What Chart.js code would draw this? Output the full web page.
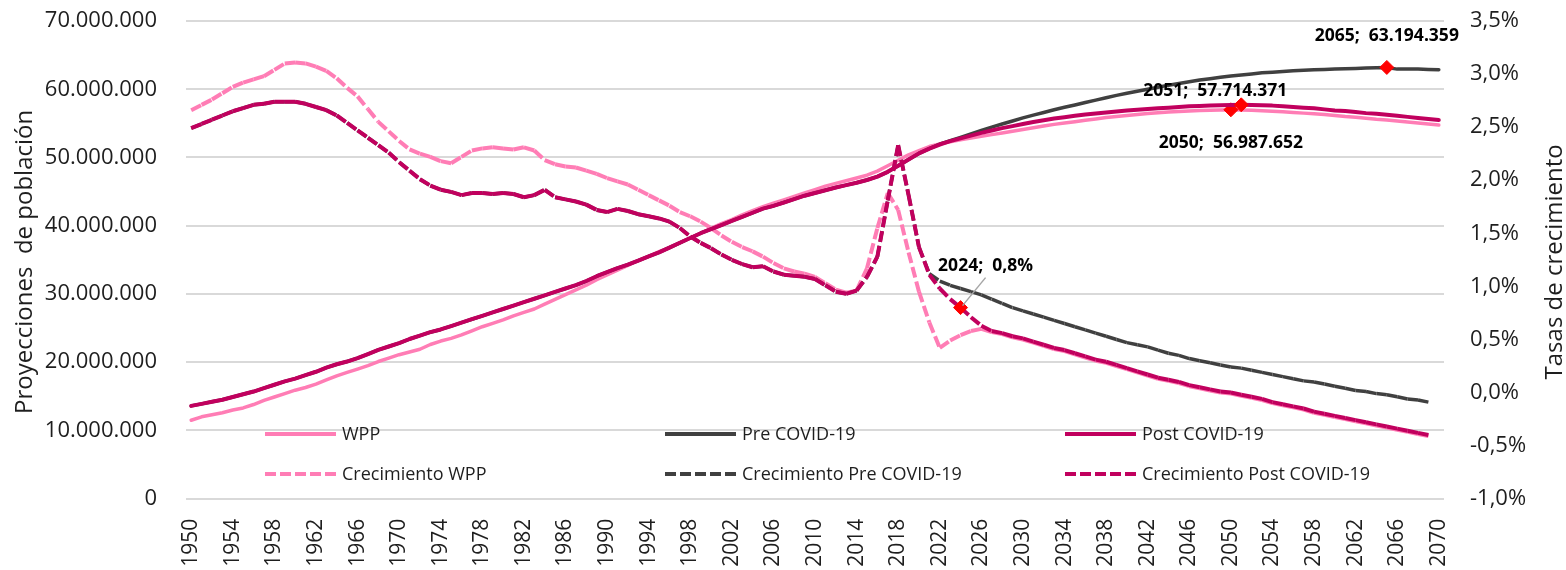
<!DOCTYPE html>
<html>
<head>
<meta charset="utf-8">
<script src="https://cdn.jsdelivr.net/npm/chart.js@4.4.1/dist/chart.umd.min.js"></script>
<style>
  html, body { margin: 0; padding: 0; background: #fff; }
  #wrap { width: 1566px; height: 570px; position: relative; }
</style>
</head>
<body>
<div id="wrap"><canvas id="popChart"></canvas></div>
<script>
const years = [
  '1950','1951','1952','1953','1954','1955','1956','1957','1958','1959',
  '1960','1961','1962','1963','1964','1965','1966','1967','1968','1969',
  '1970','1971','1972','1973','1974','1975','1976','1977','1978','1979',
  '1980','1981','1982','1983','1984','1985','1986','1987','1988','1989',
  '1990','1991','1992','1993','1994','1995','1996','1997','1998','1999',
  '2000','2001','2002','2003','2004','2005','2006','2007','2008','2009',
  '2010','2011','2012','2013','2014','2015','2016','2017','2018','2019',
  '2020','2021','2022','2023','2024','2025','2026','2027','2028','2029',
  '2030','2031','2032','2033','2034','2035','2036','2037','2038','2039',
  '2040','2041','2042','2043','2044','2045','2046','2047','2048','2049',
  '2050','2051','2052','2053','2054','2055','2056','2057','2058','2059',
  '2060','2061','2062','2063','2064','2065','2066','2067','2068','2069',
  '2070'
];

// población en millones
const wppPop = [
  11.5, 12.0, 12.3, 12.6, 13.0, 13.3, 13.8, 14.4, 14.9, 15.4,
  15.9, 16.3, 16.8, 17.4, 18.0, 18.5, 19.0, 19.5, 20.1, 20.6,
  21.1, 21.5, 21.9, 22.6, 23.1, 23.5, 24.0, 24.6, 25.2, 25.7,
  26.2, 26.8, 27.3, 27.8, 28.5, 29.2, 29.9, 30.6, 31.3, 32.1,
  32.8, 33.5, 34.2, 34.9, 35.5, 36.2, 36.8, 37.5, 38.2, 38.9,
  39.6, 40.3, 40.9, 41.6, 42.2, 42.8, 43.3, 43.8, 44.3, 44.8,
  45.3, 45.8, 46.2, 46.6, 47.0, 47.4, 48.0, 48.8, 49.6, 50.4,
  51.0, 51.6, 52.0, 52.3, 52.6, 52.85, 53.1, 53.35, 53.6, 53.85,
  54.1, 54.35, 54.6, 54.85, 55.05, 55.25, 55.45, 55.65, 55.85, 56.0,
  56.15, 56.3, 56.45, 56.55, 56.65, 56.75, 56.82, 56.88, 56.93, 56.97,
  56.987652, 56.96, 56.92, 56.85, 56.78, 56.7, 56.6, 56.5, 56.4, 56.3,
  56.15, 56.0, 55.9, 55.75, 55.6, 55.5, 55.35, 55.2, 55.05, 54.9,
  54.75
];
const prePop = [
  13.6, 13.9, 14.2, 14.5, 14.9, 15.3, 15.7, 16.2, 16.7, 17.2,
  17.6, 18.1, 18.6, 19.2, 19.7, 20.1, 20.6, 21.2, 21.8, 22.3,
  22.8, 23.4, 23.9, 24.4, 24.8, 25.3, 25.8, 26.3, 26.8, 27.3,
  27.8, 28.3, 28.8, 29.3, 29.8, 30.3, 30.8, 31.3, 31.9, 32.6,
  33.2, 33.8, 34.3, 34.9, 35.5, 36.1, 36.8, 37.5, 38.2, 38.9,
  39.5, 40.1, 40.7, 41.3, 41.9, 42.5, 42.9, 43.4, 43.9, 44.4,
  44.8, 45.2, 45.6, 45.95, 46.3, 46.7, 47.2, 47.9, 48.8, 49.7,
  50.6, 51.3, 51.95, 52.45, 52.95, 53.45, 53.95, 54.45, 54.9, 55.35,
  55.8, 56.2, 56.6, 57.0, 57.35, 57.7, 58.05, 58.4, 58.75, 59.1,
  59.4, 59.7, 60.0, 60.3, 60.6, 60.85, 61.1, 61.35, 61.55, 61.75,
  61.95, 62.1, 62.25, 62.4, 62.5, 62.6, 62.7, 62.8, 62.85, 62.9,
  62.95, 63.0, 63.05, 63.1, 63.15, 63.194359, 62.95, 62.95, 62.95, 62.9,
  62.85
];
const postPop = [
  13.6, 13.9, 14.2, 14.5, 14.9, 15.3, 15.7, 16.2, 16.7, 17.2,
  17.6, 18.1, 18.6, 19.2, 19.7, 20.1, 20.6, 21.2, 21.8, 22.3,
  22.8, 23.4, 23.9, 24.4, 24.8, 25.3, 25.8, 26.3, 26.8, 27.3,
  27.8, 28.3, 28.8, 29.3, 29.8, 30.3, 30.8, 31.3, 31.9, 32.6,
  33.2, 33.8, 34.3, 34.9, 35.5, 36.1, 36.8, 37.5, 38.2, 38.9,
  39.5, 40.1, 40.7, 41.3, 41.9, 42.5, 42.9, 43.4, 43.9, 44.4,
  44.8, 45.2, 45.6, 45.95, 46.3, 46.7, 47.2, 47.9, 48.8, 49.7,
  50.6, 51.3, 51.9, 52.4, 52.8, 53.2, 53.6, 53.95, 54.3, 54.6,
  54.9, 55.2, 55.45, 55.7, 55.9, 56.1, 56.3, 56.45, 56.6, 56.75,
  56.9, 57.0, 57.1, 57.2, 57.3, 57.4, 57.5, 57.55, 57.62, 57.67,
  57.7, 57.714371, 57.7, 57.65, 57.6, 57.5, 57.4, 57.3, 57.2, 57.05,
  56.9, 56.8, 56.65, 56.5, 56.4, 56.25, 56.1, 55.95, 55.8, 55.65,
  55.5
];

// tasas de crecimiento en %
const wppRate = [
  2.66, 2.71, 2.76, 2.82, 2.88, 2.92, 2.95, 2.98, 3.04, 3.10,
  3.11, 3.10, 3.07, 3.03, 2.96, 2.87, 2.79, 2.67, 2.55, 2.46,
  2.37, 2.29, 2.25, 2.22, 2.18, 2.16, 2.22, 2.28, 2.30, 2.31,
  2.30, 2.29, 2.31, 2.28, 2.19, 2.15, 2.13, 2.12, 2.09, 2.06,
  2.02, 1.99, 1.96, 1.91, 1.86, 1.81, 1.76, 1.70, 1.66, 1.61,
  1.55, 1.48, 1.42, 1.37, 1.33, 1.28, 1.22, 1.17, 1.14, 1.12,
  1.09, 1.03, 0.97, 0.94, 0.96, 1.17, 1.55, 1.88, 1.72, 1.32,
  0.95, 0.66, 0.42, 0.49, 0.54, 0.58, 0.60, 0.57, 0.55, 0.52,
  0.50, 0.47, 0.44, 0.41, 0.39, 0.36, 0.33, 0.30, 0.28, 0.25,
  0.22, 0.19, 0.16, 0.13, 0.11, 0.09, 0.06, 0.04, 0.02, 0.00,
  -0.01, -0.03, -0.05, -0.07, -0.10, -0.12, -0.14, -0.16, -0.19, -0.21,
  -0.23, -0.25, -0.27, -0.29, -0.31, -0.33, -0.35, -0.37, -0.39, -0.41,
  null
];
const preRate = [
  2.49, 2.53, 2.57, 2.61, 2.65, 2.68, 2.71, 2.72, 2.74, 2.74,
  2.74, 2.72, 2.69, 2.66, 2.61, 2.54, 2.47, 2.40, 2.33, 2.26,
  2.17, 2.09, 2.01, 1.95, 1.91, 1.89, 1.86, 1.88, 1.88, 1.87,
  1.88, 1.87, 1.84, 1.86, 1.91, 1.84, 1.82, 1.80, 1.77, 1.72,
  1.70, 1.73, 1.71, 1.68, 1.66, 1.64, 1.61, 1.55, 1.47, 1.41,
  1.36, 1.30, 1.25, 1.21, 1.18, 1.19, 1.14, 1.11, 1.10, 1.09,
  1.07, 1.01, 0.95, 0.93, 0.96, 1.09, 1.28, 1.81, 2.33, 1.86,
  1.37, 1.12, 1.05, 1.01, 0.98, 0.95, 0.92, 0.88, 0.84, 0.80,
  0.77, 0.74, 0.71, 0.68, 0.65, 0.62, 0.59, 0.56, 0.53, 0.50,
  0.47, 0.45, 0.43, 0.40, 0.37, 0.35, 0.32, 0.30, 0.28, 0.26,
  0.24, 0.23, 0.21, 0.19, 0.17, 0.15, 0.13, 0.11, 0.10, 0.08,
  0.06, 0.04, 0.02, 0.01, -0.01, -0.02, -0.04, -0.06, -0.07, -0.09,
  null
];
const postRate = [
  2.49, 2.53, 2.57, 2.61, 2.65, 2.68, 2.71, 2.72, 2.74, 2.74,
  2.74, 2.72, 2.69, 2.66, 2.61, 2.54, 2.47, 2.40, 2.33, 2.26,
  2.17, 2.09, 2.01, 1.95, 1.91, 1.89, 1.86, 1.88, 1.88, 1.87,
  1.88, 1.87, 1.84, 1.86, 1.91, 1.84, 1.82, 1.80, 1.77, 1.72,
  1.70, 1.73, 1.71, 1.68, 1.66, 1.64, 1.61, 1.55, 1.47, 1.41,
  1.36, 1.30, 1.25, 1.21, 1.18, 1.19, 1.14, 1.11, 1.10, 1.09,
  1.07, 1.01, 0.95, 0.93, 0.96, 1.09, 1.28, 1.81, 2.33, 1.86,
  1.37, 1.11, 0.98, 0.88, 0.8, 0.71, 0.63, 0.58, 0.56, 0.53,
  0.51, 0.48, 0.45, 0.42, 0.40, 0.37, 0.34, 0.31, 0.29, 0.26,
  0.23, 0.20, 0.17, 0.14, 0.12, 0.10, 0.07, 0.05, 0.03, 0.01,
  0.00, -0.02, -0.04, -0.06, -0.09, -0.11, -0.13, -0.15, -0.18, -0.20,
  -0.22, -0.24, -0.26, -0.28, -0.30, -0.32, -0.34, -0.36, -0.38, -0.40,
  null
];

const popTicks = [0, 10, 20, 30, 40, 50, 60, 70];
const rateTicks = [-1.0, -0.5, 0.0, 0.5, 1.0, 1.5, 2.0, 2.5, 3.0, 3.5];

const PINK = '#FF7DB5';
const GREY = '#404040';
const MAGENTA = '#C1005E';
const MARK = '#FF0000';
const TEXT = '#1e1e1e';
const FONT = '"Open Sans", "Noto Sans", sans-serif';
const DASH = [11, 4];

const fmtInt = n => String(Math.round(n)).replace(/\B(?=(\d{3})+(?!\d))/g, '.');
const fmtPct = v => v.toFixed(1).replace('.', ',') + '%';

// puntos destacados: [dataset, año, dx, dy del texto]
const marks = [
  { ds: 1, year: '2065', dx: 0, dy: -31, pct: false },
  { ds: 2, year: '2051', dx: -26, dy: -14, pct: false },
  { ds: 0, year: '2050', dx: 0, dy: 33, pct: false },
  { ds: 5, year: '2024', dx: 25, dy: -42, pct: true, leader: true }
];
const markIndex = ds => marks.filter(m => m.ds === ds).map(m => years.indexOf(m.year));

function lineSet(label, data, color, width, axis, dashed, order, dsIndex) {
  const idx = markIndex(dsIndex);
  const set = {
    label: label,
    data: data,
    yAxisID: axis,
    borderColor: color,
    borderWidth: width,
    borderDash: dashed ? DASH : [],
    borderCapStyle: dashed ? 'butt' : 'round',
    borderJoinStyle: 'round',
    tension: 0,
    fill: false,
    order: order,
    pointStyle: 'rectRot',
    pointRadius: ctx => idx.includes(ctx.dataIndex) ? 7 : 0,
    pointHoverRadius: ctx => idx.includes(ctx.dataIndex) ? 7 : 0,
    pointHitRadius: 0,
    pointBackgroundColor: MARK,
    pointBorderColor: MARK,
    pointBorderWidth: 1
  };
  if (dashed) {
    // el patrón de guiones vuelve a empezar en cada tramo, como en Excel
    set.segment = { borderDashOffset: ctx => (ctx.p0DataIndex % 2) * 0.001 };
  }
  return set;
}

const legendPlugin = {
  id: 'inlineLegend',
  afterDatasetsDraw(chart) {
    const { ctx } = chart;
    const colX = [265, 665, 1065];
    const rowY = [434, 474];
    ctx.save();
    ctx.font = '18px ' + FONT;
    ctx.textBaseline = 'middle';
    ctx.textAlign = 'left';
    chart.data.datasets.forEach((ds, i) => {
      const x = colX[i % 3];
      const y = rowY[Math.floor(i / 3)];
      ctx.beginPath();
      ctx.strokeStyle = ds.borderColor;
      ctx.lineWidth = 4;
      ctx.lineCap = 'butt';
      ctx.setLineDash(ds.borderDash);
      ctx.moveTo(x, y);
      ctx.lineTo(x + 71, y);
      ctx.stroke();
      ctx.setLineDash([]);
      ctx.fillStyle = TEXT;
      ctx.fillText(ds.label, x + 77, y + 1);
    });
    ctx.restore();
  }
};

const labelPlugin = {
  id: 'pointLabels',
  afterDatasetsDraw(chart) {
    const { ctx } = chart;
    ctx.save();
    ctx.font = 'bold 17.5px ' + FONT;
    ctx.fillStyle = '#000';
    ctx.textAlign = 'center';
    ctx.textBaseline = 'middle';
    marks.forEach(m => {
      const i = years.indexOf(m.year);
      const pt = chart.getDatasetMeta(m.ds).data[i];
      const v = chart.data.datasets[m.ds].data[i];
      const txt = m.year + ';  ' + (m.pct ? fmtPct(v) : fmtInt(v * 1e6));
      if (m.leader) {
        ctx.beginPath();
        ctx.strokeStyle = '#A6A6A6';
        ctx.lineWidth = 1.5;
        ctx.moveTo(pt.x + m.dx, pt.y + m.dy + 12);
        ctx.lineTo(pt.x + 2, pt.y - 2);
        ctx.stroke();
      }
      ctx.fillText(txt, pt.x + m.dx, pt.y + m.dy);
    });
    ctx.restore();
  }
};

const titlePlugin = {
  id: 'axisTitles',
  afterDraw(chart) {
    const { ctx, chartArea } = chart;
    const midY = (chartArea.top + chartArea.bottom) / 2;
    ctx.save();
    ctx.fillStyle = TEXT;
    ctx.font = '24px ' + FONT;
    ctx.textAlign = 'center';
    ctx.textBaseline = 'alphabetic';
    ctx.translate(32, midY + 2);
    ctx.rotate(-Math.PI / 2);
    ctx.fillText('Proyecciones  de población', 0, 0);
    ctx.restore();
    ctx.save();
    ctx.fillStyle = TEXT;
    ctx.font = '24px ' + FONT;
    ctx.textAlign = 'center';
    ctx.textBaseline = 'alphabetic';
    ctx.translate(1562, midY + 2);
    ctx.rotate(-Math.PI / 2);
    ctx.fillText('Tasas de crecimiento', 0, 0);
    ctx.restore();
  }
};

const ctx = document.getElementById('popChart').getContext('2d');
const popChart = new Chart(ctx, {
  type: 'line',
  data: {
    labels: years,
    datasets: [
      lineSet('WPP', wppPop, PINK, 3.5, 'y', false, 5, 0),
      lineSet('Pre COVID-19', prePop, GREY, 3.5, 'y', false, 3, 1),
      lineSet('Post COVID-19', postPop, MAGENTA, 4, 'y', false, 1, 2),
      lineSet('Crecimiento WPP', wppRate, PINK, 4, 'y1', true, 4, 3),
      lineSet('Crecimiento Pre COVID-19', preRate, GREY, 3.5, 'y1', true, 2, 4),
      lineSet('Crecimiento Post COVID-19', postRate, MAGENTA, 4, 'y1', true, 0, 5)
    ]
  },
  options: {
    responsive: true,
    maintainAspectRatio: false,
    animation: false,
    events: [],
    layout: { padding: 0 },
    plugins: {
      legend: { display: false },
      tooltip: { enabled: false }
    },
    scales: {
      x: {
        offset: true,
        grid: { display: false, drawTicks: false },
        border: { display: false },
        ticks: {
          autoSkip: false,
          minRotation: 90,
          maxRotation: 90,
          padding: 20,
          color: TEXT,
          font: { family: FONT, size: 21 },
          callback: function (value, index) {
            return index % 4 === 0 ? years[index] : null;
          }
        },
        afterFit: scale => { scale.height = 71.3; }
      },
      y: {
        position: 'left',
        min: 0,
        max: 70,
        grid: { color: '#D9D9D9', lineWidth: 2, drawTicks: false },
        border: { display: false },
        ticks: {
          padding: 29,
          color: TEXT,
          font: { family: FONT, size: 22 },
          callback: v => fmtInt(v * 1e6)
        },
        afterBuildTicks: scale => { scale.ticks = popTicks.map(v => ({ value: v })); },
        afterFit: scale => { scale.width = 186; scale.paddingTop = 21; scale.paddingBottom = 0; }
      },
      y1: {
        position: 'right',
        min: -1.0,
        max: 3.5,
        grid: { display: false, drawTicks: false },
        border: { display: false },
        ticks: {
          padding: 26,
          color: TEXT,
          font: { family: FONT, size: 22 },
          callback: v => fmtPct(v)
        },
        afterBuildTicks: scale => { scale.ticks = rateTicks.map(v => ({ value: v })); },
        afterFit: scale => { scale.width = 122; scale.paddingTop = 21; scale.paddingBottom = 0; }
      }
    }
  },
  plugins: [legendPlugin, labelPlugin, titlePlugin]
});
</script>
</body>
</html>
